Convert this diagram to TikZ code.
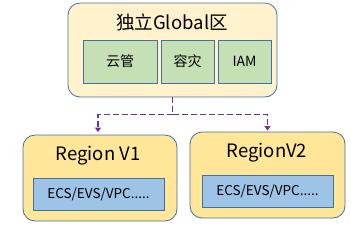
\documentclass[tikz,border=0pt]{standalone}
\usepackage{fontspec}
\setmainfont{Noto Sans CJK SC}
\usepackage{xcolor}
\usepackage{tikz}
\usetikzlibrary{arrows.meta}
\definecolor{edgeblue}{HTML}{41719C}
\definecolor{creamfill}{HTML}{FFF2CC}
\definecolor{goldfill}{HTML}{FFE699}
\definecolor{greenfill}{HTML}{C5E0B4}
\definecolor{bluefill}{HTML}{9DC3E6}
\definecolor{flowpurple}{HTML}{7030A0}
\tikzset{
 zonebox/.style = {draw=edgeblue, line width=0.8pt, rounded corners=12pt, inner sep=0},
 svcbox/.style = {draw=edgeblue, line width=0.8pt, fill=greenfill, inner sep=0, font=\fontsize{14}{16}\selectfont},
 resbox/.style = {draw=edgeblue, line width=0.8pt, fill=bluefill, inner sep=0, minimum width=131pt, minimum height=32pt, font=\fontsize{13.5}{15}\selectfont},
 zonetitle/.style = {inner sep=0, font=\fontsize{18.5}{20}\selectfont},
 flow/.style = {draw=flowpurple, line width=1.8pt, dash pattern=on 6pt off 3pt}
}

\begin{document}
\begin{tikzpicture}[x=1pt,y=-1pt]
\useasboundingbox (0,0) rectangle (351,231);

% global zone
\node[zonebox, fill=creamfill, minimum width=209pt, minimum height=94pt] (global) at (172.5,50) {};
\node[zonetitle] (globaltitle) at (172,22) {独立Global区};
\node[svcbox, minimum width=74pt, minimum height=43pt] (cloudmgmt) at (120,61.5) {云管};
\node[svcbox, minimum width=53pt, minimum height=43pt] (disaster) at (187.5,61.5) {容灾};
\node[svcbox, minimum width=53pt, minimum height=43pt] (iam) at (244.5,61.5) {IAM};

% regions
\node[zonebox, fill=goldfill, minimum width=154pt, minimum height=86pt] (regiona) at (100,178) {};
\node[zonetitle] (regionatitle) at (98,156) {Region V1};
\node[resbox] (resa) at (98.5,194) {ECS/EVS/VPC.....};

\node[zonebox, fill=goldfill, minimum width=155pt, minimum height=86pt] (regionb) at (267.5,175) {};
\node[zonetitle] (regionbtitle) at (267,153) {RegionV2};
\node[resbox] (resb) at (267.5,191) {ECS/EVS/VPC.....};

% connectors
\coordinate (split) at (172.5,114.5);
\draw[flow] (global.south) -- (split);
\draw[flow, -{Triangle[length=4.5pt,width=6pt]}, shorten >=2.5pt] (split) -| ([xshift=-2pt]regiona.north);
\draw[flow, -{Triangle[length=4.5pt,width=6pt]}, shorten >=1pt] (split) -| (regionb.north);
\end{tikzpicture}
\end{document}
